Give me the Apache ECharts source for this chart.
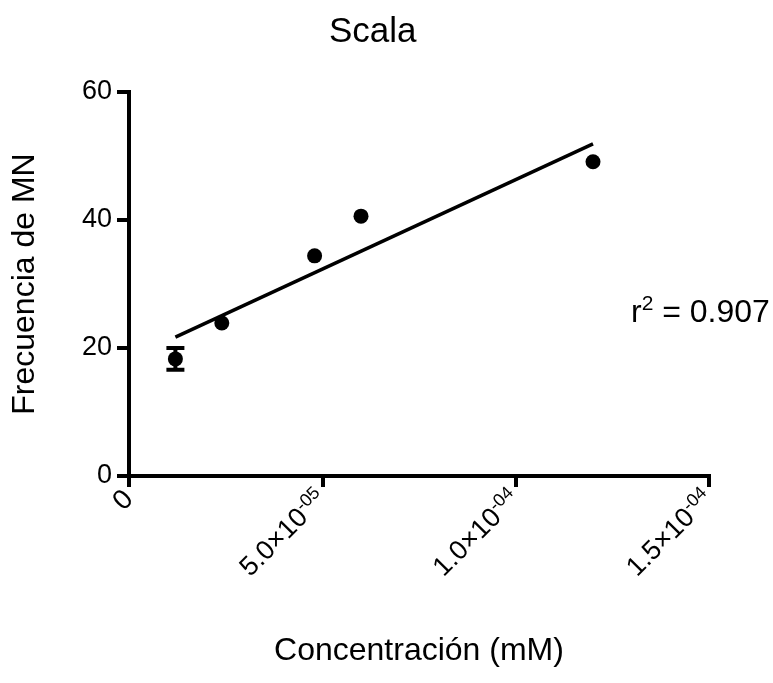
<!DOCTYPE html>
<html>
<head>
<meta charset="utf-8">
<script src="https://cdn.jsdelivr.net/npm/echarts@6/dist/echarts.min.js"></script>
<style>
html,body{margin:0;padding:0;background:#fff;}
#chart{width:773px;height:683px;}
</style>
</head>
<body>
<div id="chart"></div>
<script>
// datos
var concentracion = [1.2e-5, 2.4e-5, 4.8e-5, 6.0e-5, 1.2e-4];
var frecuencia = [18.3, 23.9, 34.4, 40.6, 49.1];
// barras de error (solo se ven en el primer punto)
var errorBajo = [16.6, null, null, null, null];
var errorAlto = [20.0, null, null, null, null];
// recta de regresion
var ajusteX = [1.2e-5, 1.2e-4];
var ajusteY = [21.7, 51.9];
var xTickValues = [0, 5e-5, 1e-4, 1.5e-4];
var xTickMantisa = ['0', '5.0×10', '1.0×10', '1.5×10'];
var xTickExp = ['', '-05', '-04', '-04'];
var r2Texto = '0.907';

var FONT = 'Liberation Sans, Arial, sans-serif';

var puntos = concentracion.map(function(x, i){ return [x, frecuencia[i]]; });
var errores = [];
for (var i = 0; i < concentracion.length; i++) {
    if (errorBajo[i] != null) errores.push([concentracion[i], errorBajo[i], errorAlto[i]]);
}
var ajuste = ajusteX.map(function(x, i){ return [x, ajusteY[i]]; });

var myChart = echarts.init(document.getElementById('chart'), null, {renderer: 'canvas'});

var option = {
    backgroundColor: '#fff',
    animation: false,
    title: {
        text: 'Scala',
        left: 324,
        top: 10,
        textStyle: {fontFamily: FONT, fontSize: 35, fontWeight: 'normal', color: '#000'}
    },
    grid: {left: 129, right: 64, top: 92, bottom: 207, containLabel: false},
    xAxis: {
        type: 'value',
        min: 0,
        max: 1.5e-4,
        interval: 5e-5,
        name: 'Concentración (mM)',
        nameLocation: 'middle',
        nameGap: 159,
        nameTextStyle: {fontFamily: FONT, fontSize: 32, color: '#000', verticalAlign: 'top'},
        axisLine: {show: true, onZero: false, lineStyle: {color: '#000', width: 4, cap: 'square'}},
        axisTick: {show: true, length: 11, lineStyle: {color: '#000', width: 4}},
        splitLine: {show: false},
        axisLabel: {
            rotate: 45,
            margin: 19,
            fontFamily: FONT,
            color: '#000',
            formatter: function(v){
                var idx = -1;
                for (var k = 0; k < xTickValues.length; k++) {
                    if (Math.abs(xTickValues[k] - v) < 1e-9) idx = k;
                }
                if (idx < 0) return '';
                if (!xTickExp[idx]) return '{z|' + xTickMantisa[idx] + '}';
                return '{b|' + xTickMantisa[idx] + '}{s|' + xTickExp[idx] + '}';
            },
            rich: {
                z: {fontFamily: FONT, fontSize: 28, color: '#000', lineHeight: 32},
                b: {fontFamily: FONT, fontSize: 27, color: '#000', lineHeight: 32},
                s: {fontFamily: FONT, fontSize: 18, color: '#000', verticalAlign: 'top', lineHeight: 32}
            }
        }
    },
    yAxis: {
        type: 'value',
        min: 0,
        max: 60,
        interval: 20,
        name: 'Frecuencia de MN',
        nameLocation: 'middle',
        nameGap: 88,
        nameTextStyle: {fontFamily: FONT, fontSize: 32, color: '#000'},
        axisLine: {show: true, onZero: false, lineStyle: {color: '#000', width: 4, cap: 'square'}},
        axisTick: {show: true, length: 12, lineStyle: {color: '#000', width: 4}},
        splitLine: {show: false},
        axisLabel: {margin: 17, fontFamily: FONT, fontSize: 27, color: '#000'}
    },
    series: [
        {
            name: 'ajuste',
            type: 'line',
            data: ajuste,
            symbol: 'none',
            lineStyle: {color: '#000', width: 3.5},
            z: 2
        },
        {
            name: 'error',
            type: 'custom',
            data: errores,
            renderItem: function(params, api){
                var x = api.value(0);
                var lo = api.coord([x, api.value(1)]);
                var hi = api.coord([x, api.value(2)]);
                var cap = 9;
                var st = {stroke: '#000', lineWidth: 4};
                return {
                    type: 'group',
                    children: [
                        {type: 'line', shape: {x1: lo[0], y1: lo[1], x2: hi[0], y2: hi[1]}, style: st},
                        {type: 'line', shape: {x1: lo[0] - cap, y1: lo[1], x2: lo[0] + cap, y2: lo[1]}, style: st},
                        {type: 'line', shape: {x1: hi[0] - cap, y1: hi[1], x2: hi[0] + cap, y2: hi[1]}, style: st}
                    ]
                };
            },
            z: 3
        },
        {
            name: 'datos',
            type: 'scatter',
            data: puntos,
            symbol: 'circle',
            symbolSize: 15,
            itemStyle: {color: '#000', opacity: 1},
            z: 4
        }
    ],
    graphic: [
        {
            type: 'text',
            left: 631,
            top: 294,
            style: {
                text: '{r|r}{s|2}{r| = ' + r2Texto + '}',
                rich: {
                    r: {fontFamily: FONT, fontSize: 32, fill: '#000', lineHeight: 38},
                    s: {fontFamily: FONT, fontSize: 21, fill: '#000', verticalAlign: 'top', lineHeight: 38}
                }
            }
        }
    ]
};

myChart.setOption(option);
</script>
</body>
</html>
